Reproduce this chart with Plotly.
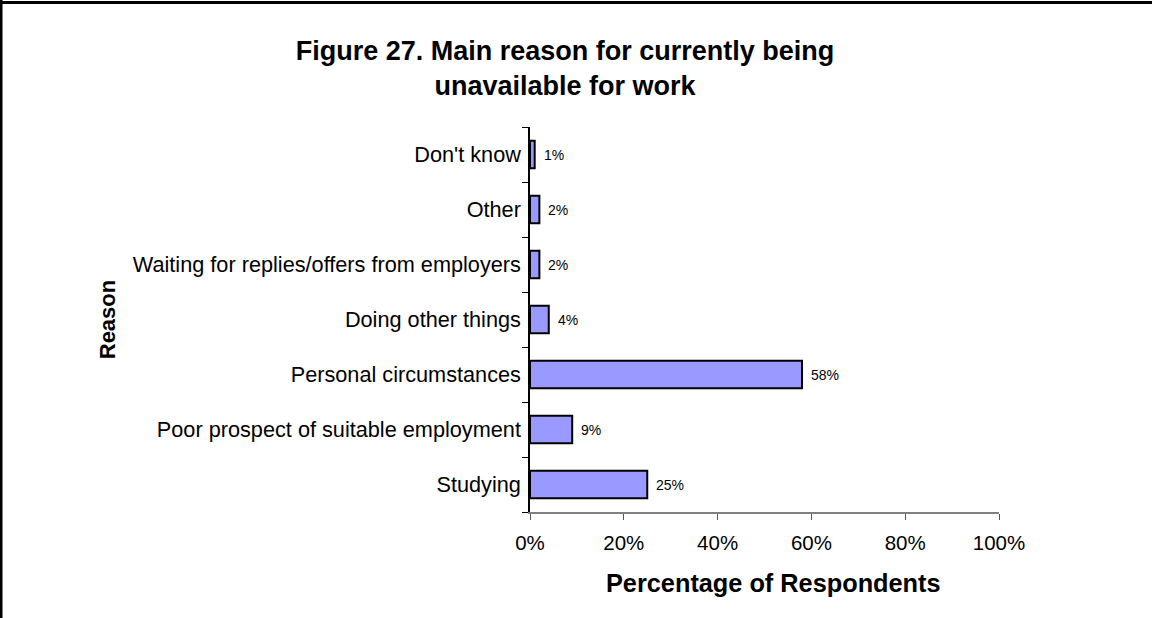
import plotly.graph_objects as go

# Survey results: main reason for currently being unavailable for work
reasons = [
    "Studying",
    "Poor prospect of suitable employment",
    "Personal circumstances",
    "Doing other things",
    "Waiting for replies/offers from employers",
    "Other",
    "Don't know",
]
shares = [0.25, 0.09, 0.58, 0.04, 0.02, 0.02, 0.01]
x_ticks = [0, 0.2, 0.4, 0.6, 0.8, 1.0]

FONT = "Liberation Sans, Arial, sans-serif"
W, H = 1152, 618
L, R, T, B = 530, 153, 127, 106

def px_x(p):
    return (p - L) / (W - L - R)

def px_y(p):
    return 1 - (p - T) / (H - T - B)

fig = go.Figure(
    go.Bar(
        x=shares,
        y=reasons,
        orientation="h",
        marker=dict(color="#9999FF", line=dict(color="black", width=2)),
        width=0.5,
        hoverinfo="x+y",
    )
)

# value labels just to the right of each bar
for v, r in zip(shares, reasons):
    fig.add_annotation(
        x=v, y=r, xref="x", yref="y",
        text=f"{v:.0%}", showarrow=False,
        xanchor="left", yanchor="middle", xshift=7,
        font=dict(family=FONT, size=14, color="black"),
    )

# horizontal axis title
fig.add_annotation(
    x=px_x(773), y=px_y(583), xref="paper", yref="paper",
    text="Percentage of Respondents", showarrow=False,
    xanchor="center", yanchor="middle",
    font=dict(family=FONT, size=25.3, color="black", weight="bold"),
)

fig.update_layout(
    width=W,
    height=H,
    margin=dict(l=L, r=R, t=T, b=B),
    paper_bgcolor="white",
    plot_bgcolor="white",
    showlegend=False,
    font=dict(family=FONT, color="black"),
    title=dict(
        text="Figure 27. Main reason for currently being<br>unavailable for work",
        font=dict(family=FONT, size=27, color="black", weight="bold"),
        x=565 / W,
        xanchor="center",
        xref="container",
        y=1 - 60 / H,
        yanchor="top",
        yref="container",
    ),
    xaxis=dict(
        range=[0, 1],
        tickvals=x_ticks,
        tickformat=".0%",
        ticks="outside",
        ticklen=6,
        tickcolor="#555555",
        ticklabelstandoff=6,
        showline=True,
        linecolor="#808080",
        linewidth=1.5,
        showgrid=False,
        zeroline=False,
        tickfont=dict(family=FONT, size=20.5, color="black"),
    ),
    yaxis=dict(
        type="category",
        categoryorder="array",
        categoryarray=reasons,
        tickson="boundaries",
        ticks="outside",
        ticklen=6,
        tickcolor="black",
        ticklabelstandoff=3,
        showline=True,
        linecolor="black",
        linewidth=1.5,
        showgrid=False,
        zeroline=False,
        tickfont=dict(family=FONT, size=21.7, color="black"),
        title=dict(
            text="Reason",
            font=dict(family=FONT, size=22, color="black", weight="bold"),
            standoff=11,
        ),
    ),
    shapes=[
        # frame around the chart area (top and left edges)
        dict(type="line", xref="paper", yref="paper",
             x0=px_x(0), x1=px_x(W + 5), y0=px_y(2.5), y1=px_y(2.5),
             line=dict(color="black", width=3)),
        dict(type="line", xref="paper", yref="paper",
             x0=px_x(1), x1=px_x(1), y0=px_y(0), y1=px_y(H + 5),
             line=dict(color="black", width=3)),
    ],
)

fig.write_html("out.html")
